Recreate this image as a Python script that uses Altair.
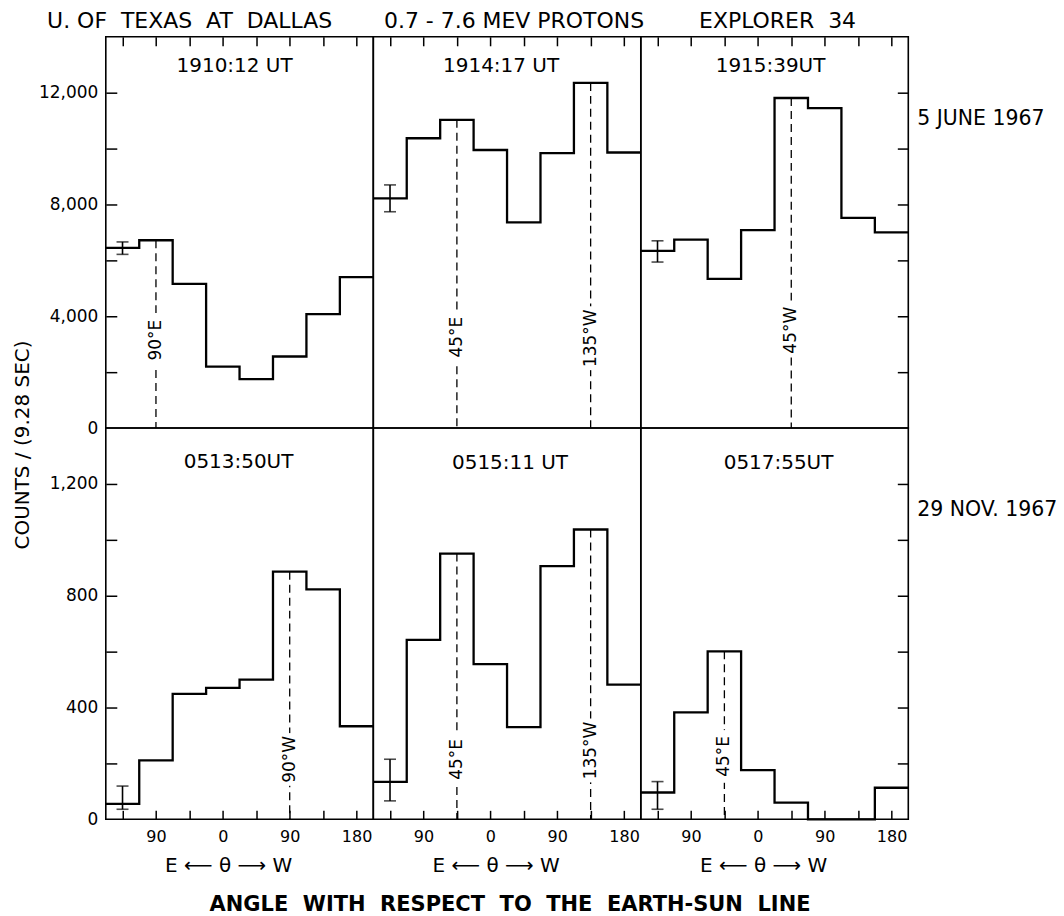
import altair as alt
import pandas as pd

FONT = "DejaVu Sans"
NB = "\u00a0"  # non-breaking space keeps the wide word spacing of the lettering

# ---------------- data ----------------
ANGLES = [-135, -90, -45, 0, 45, 90, 135, 180]          # bin centres, E negative, W positive
HALF_BIN = 22.5
X_DOMAIN = [-157.5, 202.5]
TICK_ANGLES = [-135, -90, -45, 0, 45, 90, 135, 180]
LABEL_ANGLES = [-90, 0, 90, 180]

times = ["1910:12 UT", "1914:17 UT", "1915:39UT", "0513:50UT", "0515:11 UT", "0517:55UT"]

counts = [
    [6450, 6720, 5160, 2200, 1750, 2560, 4080, 5400],      # 1910:12
    [8220, 10370, 11030, 9950, 7360, 9840, 12350, 9860],   # 1914:17
    [6340, 6740, 5340, 7080, 11810, 11450, 7520, 7000],    # 1915:39
    [55, 211, 449, 470, 500, 886, 823, 333],               # 0513:50
    [134, 642, 951, 555, 330, 906, 1037, 482],             # 0515:11
    [96, 383, 601, 176, 60, 0, 0, 113],                    # 0517:55
]

err_angle = -135
err_lo = [6215, 7740, 5940, 36, 66, 36]
err_hi = [6660, 8700, 6700, 119, 215, 135]

peak_angles = [[-90], [-45, 135], [45], [90], [-45, 135], [-45]]
peak_labels = [["90°E"], ["45°E", "135°W"], ["45°W"], ["90°W"], ["45°E", "135°W"], ["45°E"]]

headers = ["U." + NB + "OF" + NB * 2 + "TEXAS" + NB * 2 + "AT" + NB * 2 + "DALLAS",
           "0.7 - 7.6" + NB + "MEV" + NB + "PROTONS",
           "EXPLORER" + NB * 2 + "34"]
row_labels = ["5 JUNE 1967", "29 NOV. 1967"]
y_title = "COUNTS / (9.28 SEC)"
x_sub_title = "E ⟵ θ ⟶ W"
x_title = (NB * 2).join(["ANGLE", "WITH", "RESPECT", "TO", "THE", "EARTH-SUN", "LINE"])

y_max = [14000, 1400]
y_major = [[0, 4000, 8000, 12000], [0, 400, 800, 1200]]
y_minor = [[2000, 4000, 6000, 8000, 10000, 12000], [200, 400, 600, 800, 1000, 1200]]

# ---------------- layout ----------------
W, H = 268, 392
time_pos = [(129, 29), (128, 29), (130, 29), (133, 34), (137, 35), (138, 35)]
peak_label_y = [[304], [301, 302], [294], [332], [332, 323], [329]]
header_x = [84, 141, 137]


def panel(k):
    row, col = divmod(k, 3)
    c = counts[k]
    rows = []
    for i, (a, v) in enumerate(zip(ANGLES, c)):
        rows.append({"a": a - HALF_BIN, "v": v, "o": 2 * i})
        rows.append({"a": a + HALF_BIN, "v": v, "o": 2 * i + 1})
    steps = pd.DataFrame(rows)

    xs = alt.Scale(domain=X_DOMAIN, nice=False, zero=False)
    ys = alt.Scale(domain=[0, y_max[row]], nice=False, zero=False)

    if row == 1:
        x_lab = alt.Axis(orient="bottom", values=LABEL_ANGLES,
                         labelExpr="format(abs(datum.value), 'd')",
                         ticks=False, tickSize=0, domain=False, grid=False,
                         labelPadding=9, labelFontSize=16, labelFont=FONT,
                         labelColor="black", title=None)
    else:
        x_lab = None
    if col == 0:
        y_lab = alt.Axis(orient="left", values=y_major[row], format=",.0f",
                         ticks=False, tickSize=0, domain=False, grid=False,
                         labelPadding=8, labelFontSize=17, labelFont=FONT,
                         labelColor="black", title=None)
    else:
        y_lab = None

    hist = alt.Chart(steps).mark_line(color="black", strokeWidth=2.3, strokeJoin="miter").encode(
        x=alt.X("a:Q", scale=xs, axis=x_lab),
        y=alt.Y("v:Q", scale=ys, axis=y_lab),
        order=alt.Order("o:Q"),
    )

    x_tick = alt.Axis(orient="bottom" if row == 1 else "top", offset=-9, values=TICK_ANGLES,
                      tickSize=9, tickWidth=1.5, tickColor="black", labels=False,
                      domain=False, grid=False, title=None)
    y_tick_l = (alt.Axis(orient="left", offset=-11, values=y_minor[row], tickSize=11,
                         tickWidth=1.5, tickColor="black", labels=False, domain=False,
                         grid=False, title=None) if col == 0 else None)
    ticks1 = alt.Chart(steps).mark_line(opacity=0).encode(
        x=alt.X("a:Q", scale=xs, axis=x_tick),
        y=alt.Y("v:Q", scale=ys, axis=y_tick_l),
    )
    layers = [hist, ticks1]
    if col == 2:
        y_tick_r = alt.Axis(orient="right", offset=-11, values=y_minor[row], tickSize=11,
                            tickWidth=1.5, tickColor="black", labels=False, domain=False,
                            grid=False, title=None)
        ticks2 = alt.Chart(steps).mark_line(opacity=0).encode(
            x=alt.X("a:Q", scale=xs, axis=None),
            y=alt.Y("v:Q", scale=ys, axis=y_tick_r),
        )
        layers.append(ticks2)

    # dashed peak markers
    pk = pd.DataFrame({"a": peak_angles[k],
                       "v": [c[ANGLES.index(a)] for a in peak_angles[k]],
                       "label": peak_labels[k]})
    dash = alt.Chart(pk).mark_rule(color="black", strokeWidth=1.3, strokeDash=[8, 5]).encode(
        x=alt.X("a:Q", scale=xs, axis=None),
        y=alt.Y("v:Q", scale=ys, axis=None),
        y2=alt.datum(0),
    )
    layers.append(dash)
    for j, (a, lab) in enumerate(zip(peak_angles[k], peak_labels[k])):
        ly = peak_label_y[k][j]
        half = len(lab) * 5.6 + 4
        d = pd.DataFrame({"a": [a], "label": [lab]})
        gap = alt.Chart(d).mark_rule(color="white", strokeWidth=7).encode(
            x=alt.X("a:Q", scale=xs, axis=None),
            y=alt.value(ly - half), y2=alt.value(ly + half),
        )
        txt = alt.Chart(d).mark_text(angle=270, fontSize=17, font=FONT, color="black",
                                     baseline="middle", align="center").encode(
            x=alt.X("a:Q", scale=xs, axis=None),
            y=alt.value(ly), text="label:N",
        )
        layers += [gap, txt]

    # error bar
    eb = pd.DataFrame({"a": [err_angle], "lo": [err_lo[k]], "hi": [err_hi[k]]})
    layers.append(alt.Chart(eb).mark_rule(color="black", strokeWidth=1.6).encode(
        x=alt.X("a:Q", scale=xs, axis=None),
        y=alt.Y("lo:Q", scale=ys, axis=None), y2="hi:Q"))
    for fld in ["lo", "hi"]:
        layers.append(alt.Chart(eb).mark_tick(orient="horizontal", size=12, thickness=1.6,
                                              color="black").encode(
            x=alt.X("a:Q", scale=xs, axis=None),
            y=alt.Y(f"{fld}:Q", scale=ys, axis=None)))

    # time label
    tx, ty = time_pos[k]
    layers.append(alt.Chart(pd.DataFrame({"t": [times[k]]})).mark_text(
        fontSize=20, font=FONT, color="black", baseline="middle", align="center").encode(
        x=alt.value(tx), y=alt.value(ty), text="t:N"))

    if row == 0:
        layers.append(alt.Chart(pd.DataFrame({"t": [headers[col]]})).mark_text(
            fontSize=22, font=FONT, color="black", baseline="alphabetic", align="center").encode(
            x=alt.value(header_x[col]), y=alt.value(-9), text="t:N"))
    if col == 2:
        layers.append(alt.Chart(pd.DataFrame({"t": [row_labels[row]]})).mark_text(
            fontSize=20.5, font=FONT, color="black", baseline="middle", align="left").encode(
            x=alt.value(W + 9), y=alt.value(82), text="t:N"))
    if row == 1:
        layers.append(alt.Chart(pd.DataFrame({"t": [x_sub_title]})).mark_text(
            fontSize=20, font=FONT, color="black", baseline="middle", align="center").encode(
            x=alt.value(123), y=alt.value(H + 47), text="t:N"))
    if k == 0:
        layers.append(alt.Chart(pd.DataFrame({"t": [y_title]})).mark_text(
            fontSize=20, font=FONT, color="black", baseline="middle", align="center",
            angle=270).encode(
            x=alt.value(-83), y=alt.value(409), text="t:N"))
    if k == 4:
        layers.append(alt.Chart(pd.DataFrame({"t": [x_title]})).mark_text(
            fontSize=21, font=FONT, fontWeight="bold", color="black",
            baseline="alphabetic", align="center").encode(
            x=alt.value(137), y=alt.value(H + 92), text="t:N"))

    return alt.layer(*layers).resolve_axis(x="independent", y="independent").properties(
        width=W, height=H)


panels = [panel(k) for k in range(6)]
chart = alt.concat(*panels, columns=3, spacing=0, bounds="flush").properties(
    padding={"left": 12, "top": 8, "right": 5, "bottom": 0},
    background="white",
).configure_view(stroke="black", strokeWidth=1.6)

chart.save("out.html", embed_options={"renderer": "svg", "actions": False})
